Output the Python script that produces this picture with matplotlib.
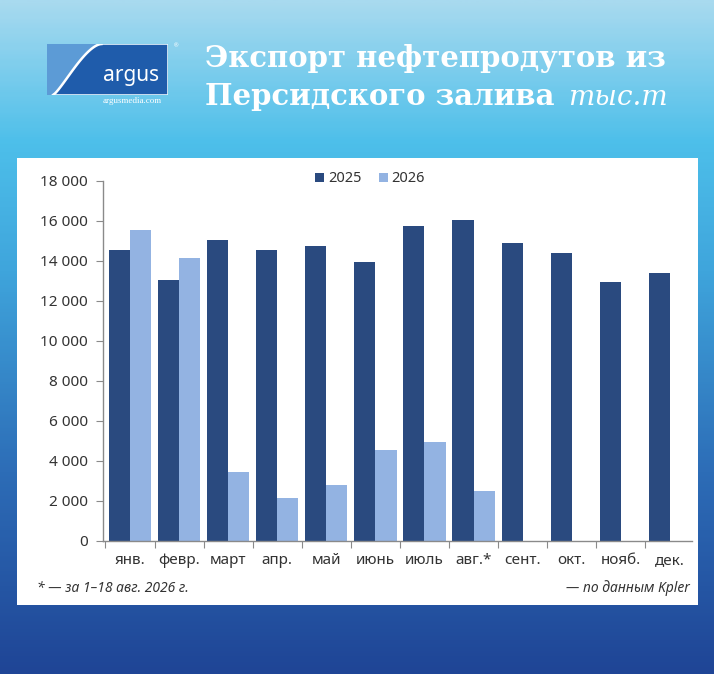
import numpy as np
import matplotlib
matplotlib.use('Agg')
import matplotlib.pyplot as plt
import matplotlib.patches as mpatches
from matplotlib.colors import LinearSegmentedColormap
from matplotlib.ticker import FuncFormatter, FixedLocator

plt.rcParams["font.family"] = ["Noto Sans", "DejaVu Sans"]

months = ['янв.', 'февр.', 'март', 'апр.', 'май', 'июнь', 'июль', 'авг.*',
          'сент.', 'окт.', 'нояб.', 'дек.']
exports_2025 = [14550, 13050, 15070, 14540, 14740, 13940, 15730, 16030,
                14900, 14420, 12950, 13400]
exports_2026 = [15550, 14150, 3430, 2160, 2800, 4550, 4960, 2510,
                np.nan, np.nan, np.nan, np.nan]
series_names = ['2025', '2026']
yticks = [0, 2000, 4000, 6000, 8000, 10000, 12000, 14000, 16000, 18000]

W, H = 714, 674
dark = '#2a4a7f'
light = '#93b3e2'
textc = '#333333'


def fx(x):
    return x / W


def fy(y):
    return 1 - y / H


fig = plt.figure(figsize=(W / 100, H / 100), dpi=100)

# background gradient
bg = fig.add_axes([0, 0, 1, 1], zorder=-10)
cmap = LinearSegmentedColormap.from_list('bgc', [
    (0.0, '#a8daef'), (0.21, '#4dbfea'), (0.40, '#3fa5dc'),
    (0.70, '#2d6db7'), (1.0, '#1f4596')])
grad = np.linspace(0, 1, 300).reshape(-1, 1)
bg.imshow(grad, aspect='auto', cmap=cmap, extent=[0, 1, 0, 1], origin='upper')
bg.set_xlim(0, 1)
bg.set_ylim(0, 1)
bg.axis('off')

# white panel
bg.add_patch(mpatches.Rectangle((fx(17), fy(605)), fx(698) - fx(17), fy(158) - fy(605),
                                facecolor='white', edgecolor='none', zorder=2))

# logo
lg = fig.add_axes([fx(47), fy(95), fx(168) - fx(47), fy(44) - fy(95)], zorder=5)
lg.set_xlim(0, 1)
lg.set_ylim(0, 1)
lg.add_patch(mpatches.Rectangle((0, 0), 1, 1, facecolor='#1f5cab', edgecolor='#e8f4fb', lw=1.2))
t = np.linspace(0, 1, 50)
cx = 0.05 + 0.40 * t ** 0.8
cy = 1 - (1 - t) ** 1.7
lg.fill(np.r_[0, cx, 0], np.r_[0, cy, 1], color='#5c9bd6', lw=0)
lg.plot(cx, cy, color='white', lw=1.8)
lg.text(0.93, 0.38, 'argus', color='white', fontsize=15, fontweight='bold',
        ha='right', va='center', family='Noto Sans')
lg.axis('off')
fig.text(fx(176), fy(46), '®', color='white', fontsize=4, ha='center', va='center')
fig.text(fx(132), fy(101), 'argusmedia.com', color='white', fontsize=6.5,
         family='Liberation Serif', ha='center', va='center')

# title
fig.text(fx(205), fy(67), 'Экспорт нефтепродутов из', color='white',
         fontsize=21, fontweight='bold', family='DejaVu Serif', ha='left', va='baseline')
fig.text(fx(205), fy(105), 'Персидского залива', color='white',
         fontsize=21, fontweight='bold', family='DejaVu Serif', ha='left', va='baseline')
fig.text(fx(668), fy(105), 'тыс.т', color='white', fontsize=20, style='italic',
         family='DejaVu Serif', ha='right', va='baseline')

# chart
ax = fig.add_axes([fx(103), fy(541), fx(692) - fx(103), fy(181) - fy(541)], zorder=3)
x = np.arange(len(months))
bw = 0.43
ax.bar(x - bw / 2, exports_2025, bw, color=dark, label=series_names[0])
ax.bar(x + bw / 2, exports_2026, bw, color=light, label=series_names[1])
ax.set_xlim(-0.55, 11.45)
ax.set_ylim(0, 18000)
ax.set_facecolor('none')
for s in ['top', 'right']:
    ax.spines[s].set_visible(False)
for s in ['left', 'bottom']:
    ax.spines[s].set_color('#8a8a8a')
    ax.spines[s].set_linewidth(1)
ax.set_yticks(yticks)
ax.yaxis.set_major_formatter(FuncFormatter(lambda v, p: f'{int(v):,}'.replace(',', ' ')))
ax.tick_params(axis='y', direction='out', length=5, color='#8a8a8a', labelsize=11,
               labelcolor=textc, pad=6)
ax.xaxis.set_major_locator(FixedLocator(np.arange(-0.5, 12, 1)))
ax.xaxis.set_minor_locator(FixedLocator(x))
ax.set_xticklabels([''] * 13)
ax.set_xticklabels(months, minor=True)
ax.tick_params(axis='x', which='major', direction='out', length=5, color='#8a8a8a')
ax.tick_params(axis='x', which='minor', length=0, labelsize=11, labelcolor=textc, pad=9)

leg = ax.legend(loc='center', bbox_to_anchor=(fx(370), fy(179)), bbox_transform=fig.transFigure,
                ncol=2, frameon=False, fontsize=10.5, handlelength=0.6, handleheight=0.6,
                handletextpad=0.25, columnspacing=1.2)
for txt in leg.get_texts():
    txt.set_color(textc)

# footnotes
fig.text(fx(37), fy(588), '* — за 1–18 авг. 2026 г.', color=textc, fontsize=10,
         style='italic', ha='left', va='center')
fig.text(fx(690), fy(588), '— по данным Kpler', color=textc, fontsize=10,
         style='italic', ha='right', va='center')

fig.savefig('out.png', dpi=100)
